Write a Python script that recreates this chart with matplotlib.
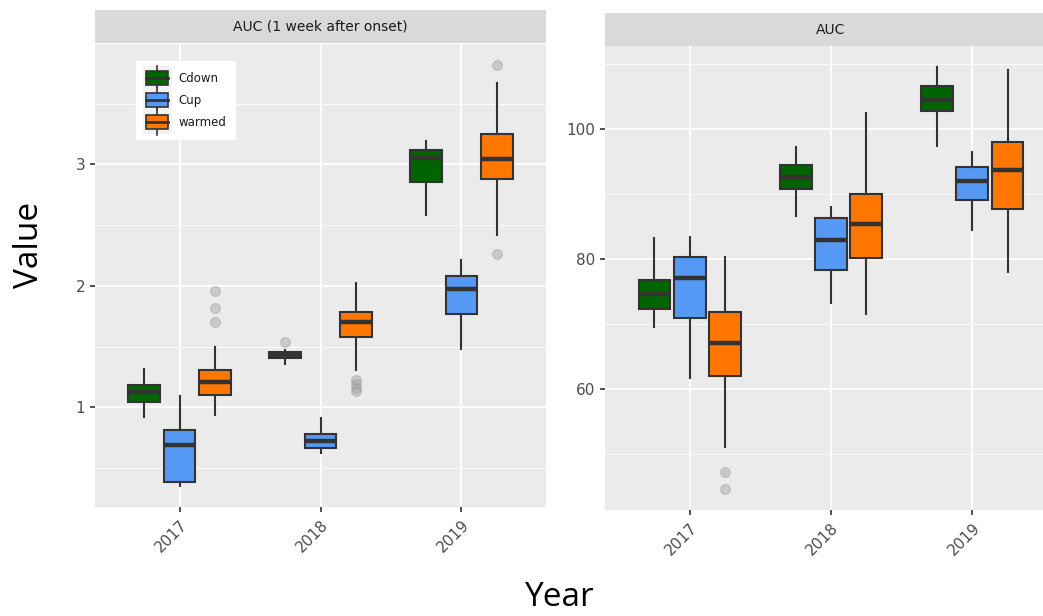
import matplotlib
matplotlib.use('Agg')
import matplotlib.pyplot as plt
from matplotlib.patches import Rectangle
from matplotlib.lines import Line2D
from matplotlib.legend_handler import HandlerBase

years = ['2017', '2018', '2019']
groups = ['Cdown', 'Cup', 'warmed']
colors = {'Cdown': '#006400', 'Cup': '#5599F5', 'warmed': '#FF7700'}

# (whislo, q1, med, q3, whishi) per year, per group
left_stats = {
    'Cdown': [(0.92, 1.04, 1.13, 1.187, 1.318), (1.354, 1.41, 1.434, 1.458, 1.47), (2.58, 2.855, 3.055, 3.115, 3.19)],
    'Cup': [(0.352, 0.385, 0.687, 0.81, 1.096), (0.627, 0.665, 0.725, 0.78, 0.912), (1.48, 1.77, 1.97, 2.08, 2.215)],
    'warmed': [(0.94, 1.099, 1.206, 1.31, 1.50), (1.305, 1.576, 1.705, 1.785, 2.023), (2.415, 2.875, 3.045, 3.25, 3.67)],
}
left_fliers = {
    'Cdown': [[], [1.535], []],
    'Cup': [[], [], []],
    'warmed': [[1.957, 1.817, 1.705], [1.222, 1.19, 1.162, 1.134], [3.82, 2.265]],
}
right_stats = {
    'Cdown': [(69.5, 72.3, 74.56, 76.76, 83.16), (86.6, 90.74, 92.63, 94.42, 97.14), (97.39, 102.7, 104.4, 106.56, 109.4)],
    'Cup': [(61.75, 70.97, 77.0, 80.3, 83.4), (73.2, 78.3, 82.9, 86.33, 88.02), (84.44, 89.0, 92.0, 94.07, 96.37)],
    'warmed': [(51.06, 62.06, 67.13, 71.9, 80.25), (71.54, 80.1, 85.36, 89.97, 102.37), (78.0, 87.7, 93.6, 98.0, 109.06)],
}
right_fliers = {
    'Cdown': [[], [], []],
    'Cup': [[], [], []],
    'warmed': [[47.27, 44.65], [], []],
}

plt.rcParams['font.family'] = ['DejaVu Sans']
fig = plt.figure(figsize=(10.43, 6.16), dpi=100)
W, H = 1043, 616

def px_axes(x0, y0, x1, y1):
    return fig.add_axes([x0 / W, 1 - y1 / H, (x1 - x0) / W, (y1 - y0) / H])

def strip(x0, y0, x1, y1, label):
    s = px_axes(x0, y0, x1, y1)
    s.set_facecolor('#D9D9D9')
    s.set_xticks([]); s.set_yticks([])
    for sp in s.spines.values():
        sp.set_visible(False)
    s.text(0.5, 0.5, label, ha='center', va='center', fontsize=10, color='#1A1A1A')

def draw_panel(ax, stats, fliers, ylim, major, minor):
    ax.set_facecolor('#EBEBEB')
    for s in ax.spines.values():
        s.set_visible(False)
    ax.set_xlim(0.4, 3.6)
    ax.set_ylim(*ylim)
    ax.set_yticks(major)
    ax.set_yticks(minor, minor=True)
    ax.grid(True, which='major', color='white', lw=1.3)
    ax.grid(True, which='minor', axis='y', color='white', lw=0.6)
    ax.set_axisbelow(True)
    for gi, g in enumerate(groups):
        off = (gi - 1) * 0.25
        bstats = []
        for yi in range(len(years)):
            lo, q1, med, q3, hi = stats[g][yi]
            bstats.append(dict(whislo=lo, q1=q1, med=med, q3=q3, whishi=hi,
                               fliers=fliers[g][yi]))
        ax.bxp(bstats, positions=[i + 1 + off for i in range(len(years))], widths=0.225,
               patch_artist=True, showcaps=False,
               boxprops=dict(facecolor=colors[g], edgecolor='#333333', linewidth=1.5),
               medianprops=dict(color='#333333', linewidth=3.2, solid_capstyle='butt'),
               whiskerprops=dict(color='#333333', linewidth=1.5),
               flierprops=dict(marker='o', markerfacecolor='#9A9A9A', markeredgecolor='#9A9A9A',
                               markersize=7, alpha=0.4))
    ax.set_xticks([1, 2, 3])
    ax.set_xticklabels(years, rotation=45, ha='right', rotation_mode='anchor')
    ax.tick_params(axis='both', which='major', colors='#333333', labelcolor='#4D4D4D',
                   labelsize=11, length=3.5, width=1.2)
    ax.tick_params(axis='both', which='minor', length=0)
    ax.tick_params(axis='x', pad=4)

# left panel
axl = px_axes(95, 44, 546, 507)
draw_panel(axl, left_stats, left_fliers, (0.18, 3.99), [1, 2, 3], [0.5, 1.5, 2.5, 3.5])
strip(95, 10, 546, 43, 'AUC (1 week after onset)')

# right panel (cut at the image edge, as in the reference)
axr = px_axes(605, 46, 1057, 510)
draw_panel(axr, right_stats, right_fliers, (41.4, 112.7), [60, 80, 100], [50, 70, 90, 110])
strip(605, 13, 1057, 46, 'AUC')


class BoxKey(HandlerBase):
    def create_artists(self, legend, orig, xd, yd, width, height, fontsize, trans):
        c = orig.get_facecolor()
        x0, y0 = -xd, -yd
        cx = x0 + width / 2
        bg = Rectangle((x0 - 1, y0 - 2), width + 2, height + 4, facecolor='#F2F2F2', edgecolor='none', transform=trans)
        wl = Line2D([cx, cx], [y0 - 2.5, y0 + height + 2.5], color='#333333', lw=1.2, transform=trans)
        box = Rectangle((x0 + 1.5, y0 + 1.5), width - 3, height - 3, facecolor=c, edgecolor='#333333', lw=1.2, transform=trans)
        md = Line2D([x0 + 1.5, x0 + width - 1.5], [y0 + height / 2] * 2, color='#333333', lw=2, transform=trans)
        return [bg, wl, box, md]


handles = [Rectangle((0, 0), 1, 1, facecolor=colors[g]) for g in groups]
leg = axl.legend(handles, groups, handler_map={Rectangle: BoxKey()}, loc='upper left',
                 bbox_to_anchor=((136 - 95) / 451, 1 - (61 - 44) / 463), frameon=True,
                 fancybox=False, edgecolor='white', facecolor='white', framealpha=1,
                 fontsize=8.5, handlelength=2.2, handleheight=2.0, labelspacing=0.3,
                 borderpad=0.7, handletextpad=0.7, borderaxespad=0)
for t in leg.get_texts():
    t.set_color('#1A1A1A')

fig.text(30 / W, 1 - 245 / H, 'Value', rotation=90, ha='center', va='center', fontsize=24,
         family=['Open Sans', 'DejaVu Sans'])
fig.text(560 / W, 1 - 598 / H, 'Year', ha='center', va='center', fontsize=24,
         family=['Open Sans', 'DejaVu Sans'])

fig.savefig('out.png', dpi=100)
